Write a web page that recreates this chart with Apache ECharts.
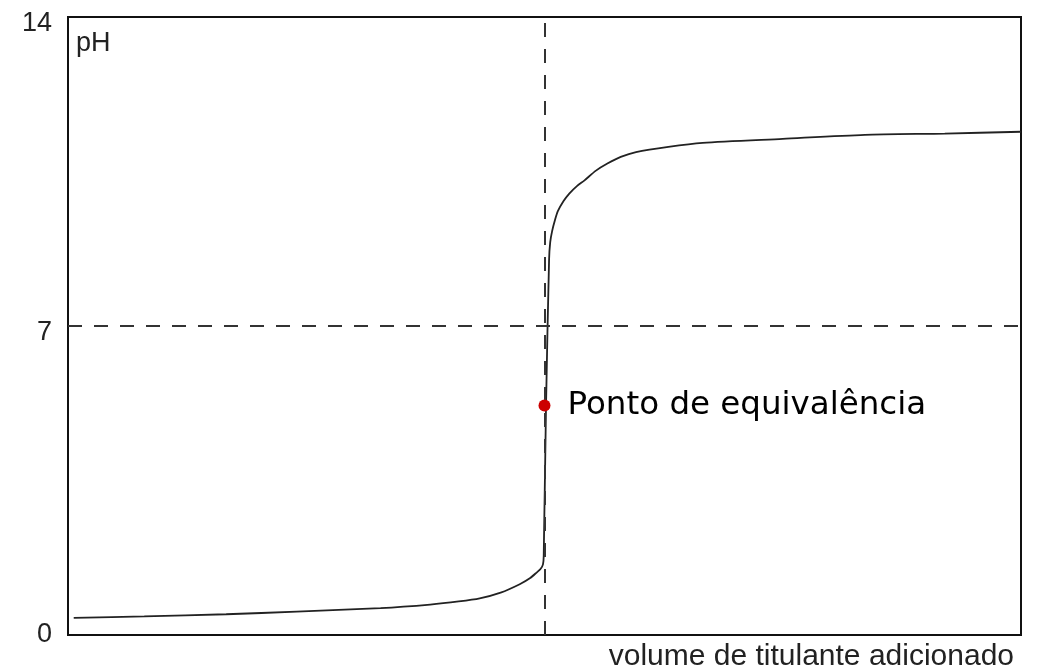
<!DOCTYPE html>
<html>
<head>
<meta charset="utf-8">
<script src="https://cdn.jsdelivr.net/npm/echarts@6/dist/echarts.min.js"></script>
<style>
html, body { margin: 0; padding: 0; background: #fff; }
#chart { width: 1040px; height: 671px; }
</style>
</head>
<body>
<div id="chart"></div>
<script>
// volume de titulante (mL) e pH
var volume = [0.3, 4, 8.3, 12, 16.4, 19, 20.5, 21.6, 22.7, 23.7, 24.25, 24.6, 24.8, 24.92, 24.96, 25.08, 25.24, 25.3, 25.4, 25.55, 25.7, 26, 26.3, 26.7, 27.1, 27.7, 28.3, 29, 29.8, 31.5, 33.3, 37.5, 41.8, 46, 50]
var ph = [0.39, 0.42, 0.47, 0.53, 0.61, 0.69, 0.76, 0.83, 0.96, 1.15, 1.29, 1.42, 1.5, 1.6, 1.8, 5.2, 8.5, 8.9, 9.15, 9.4, 9.6, 9.83, 10.0, 10.17, 10.3, 10.52, 10.68, 10.83, 10.94, 11.06, 11.15, 11.24, 11.33, 11.36, 11.4]
var yTicks = [0, 7, 14]
var equivVolume = 25
var equivPH = 5.2
var neutralPH = 7

var curve = []
for (var i = 0; i < volume.length; i++) {
    curve.push([volume[i], ph[i]])
}

var chart = echarts.init(document.getElementById('chart'))
chart.setOption({
    animation: false,
    grid: {
        left: 68,
        right: 19,
        top: 17,
        bottom: 36,
        show: true,
        borderColor: '#111',
        borderWidth: 2
    },
    xAxis: {
        type: 'value',
        min: 0,
        max: 50,
        axisLine: { show: false },
        axisTick: { show: false },
        axisLabel: { show: false },
        splitLine: { show: false }
    },
    yAxis: {
        type: 'value',
        min: yTicks[0],
        max: yTicks[yTicks.length - 1],
        interval: 7,
        axisLine: { show: false },
        axisTick: { show: false },
        splitLine: { show: false },
        axisLabel: {
            margin: 16,
            formatter: function (v) {
                // rótulos 7 e 14 um pouco abaixo da marca
                return v > 0 ? '{low|' + v + '}' : '{base|' + v + '}'
            },
            rich: {
                low: { fontFamily: 'Liberation Sans', fontSize: 27, color: '#222', padding: [13, 0, 0, 0] },
                base: { fontFamily: 'Liberation Sans', fontSize: 27, color: '#222' }
            }
        }
    },
    graphic: [
        {
            type: 'text',
            left: 76,
            top: 30,
            style: { text: 'pH', font: '27px "Liberation Sans"', fill: '#222' }
        },
        {
            type: 'text',
            right: 26,
            top: 642,
            style: { text: 'volume de titulante adicionado', font: '30px "Liberation Sans"', fill: '#222' }
        }
    ],
    series: [
        {
            // curva de titulação
            type: 'line',
            data: curve,
            showSymbol: false,
            smooth: 0.25,
            lineStyle: { color: '#222', width: 1.8 },
            markLine: {
                silent: true,
                symbol: 'none',
                label: { show: false },
                lineStyle: { color: '#333', width: 2, type: [14, 12] },
                data: [
                    { xAxis: equivVolume },
                    { yAxis: neutralPH }
                ]
            },
            z: 3
        },
        {
            // ponto de equivalência
            type: 'scatter',
            data: [[equivVolume, equivPH]],
            symbolSize: 12,
            itemStyle: { color: '#cc0000', opacity: 1 },
            label: {
                show: true,
                position: 'right',
                distance: 17,
                formatter: 'Ponto de equivalência',
                fontFamily: 'DejaVu Sans',
                fontSize: 32.5,
                color: '#000'
            },
            z: 5
        }
    ]
})
</script>
</body>
</html>
